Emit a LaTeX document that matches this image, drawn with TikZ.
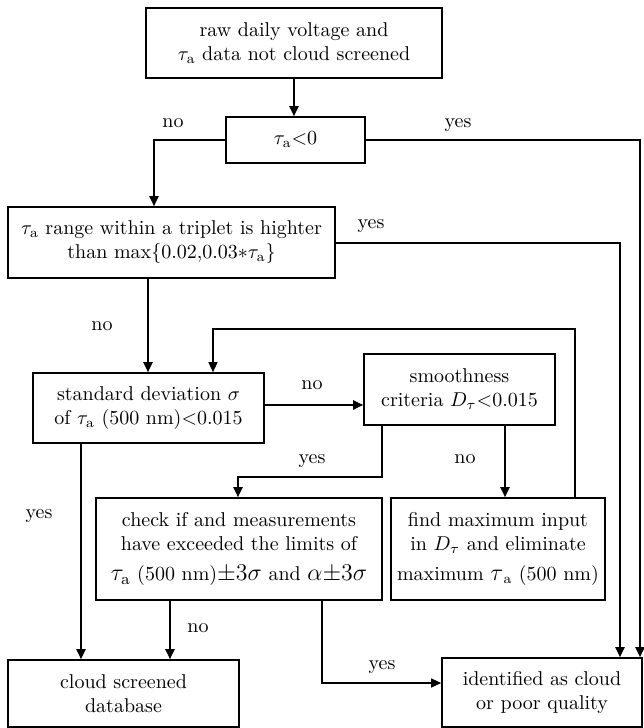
\documentclass[tikz,border=0pt]{standalone}
\usepackage{amsmath, amssymb}
\usepackage{tikz}
\usetikzlibrary{positioning, calc, arrows.meta}
\newcommand{\taua}{\tau_{\mathrm{a}}}

\begin{document}
\begin{tikzpicture}[x=0.5pt, y=-0.5pt,
    stepbox/.style={draw, line width=0.8pt, align=center, inner sep=1pt},
    flow/.style={-{Triangle[length=5pt, width=4.5pt]}, line width=1pt},
    thinflow/.style={-{Triangle[length=5pt, width=4.5pt]}, line width=0.6pt},
    answer/.style={inner sep=0pt, anchor=base},
]
\useasboundingbox (0,0) rectangle (643,728);

% --- Process boxes (positions in pixels of the 643 x 728 layout) ---
\node[stepbox, minimum width=148pt, minimum height=35pt] (raw) at (294,43)
    {raw daily voltage and\\ $\taua$ data not cloud screened};
\node[stepbox, minimum width=69.5pt, minimum height=23pt] (neg) at (295.5,140)
    {$\taua{<}0$};
\node[stepbox, minimum width=163.5pt, minimum height=35.5pt] (range) at (171.5,242.5)
    {$\taua$ range within a triplet is highter\\ than max$\{0.02{,}0.03{*}\taua\}$};
\node[stepbox, minimum width=115.5pt, minimum height=35pt] (stddev) at (148.5,408)
    {standard deviation $\sigma$\\ of $\taua$ (500 nm)${<}$0.015};
\node[stepbox, minimum width=95.5pt, minimum height=35.5pt] (smooth) at (459.5,389.5)
    {smoothness\\ criteria $D_\tau{<}0.015$};
\node[stepbox, minimum width=143pt, minimum height=51pt] (check) at (239,549)
    {check if and measurements\\ have exceeded the limits of\\[3pt]
     {\large$\taua$} (500 nm){\large$\pm3\sigma$} and {\large$\alpha{\pm}3\sigma$}};
\node[stepbox, minimum width=107pt, minimum height=51pt] (findmax) at (498,549)
    {find maximum input\\ in $D_\tau$ and eliminate\\[3pt] maximum {\large$\tau$}$_{\mathrm{a}}$ (500 nm)};
\node[stepbox, minimum width=115.5pt, minimum height=33.5pt] (database) at (123.5,693.5)
    {cloud screened\\ database};
\node[stepbox, minimum width=100pt, minimum height=34.5pt] (cloud) at (542,692.5)
    {identified as cloud\\ or poor quality};

% --- Bend points of the connectors ---
\coordinate (negno)    at (154,0);
\coordinate (yesfar)   at (640,0);
\coordinate (yesnear)  at (620,0);
\coordinate (rangeno)  at (148,0);
\coordinate (smoothy)  at (382,477);
\coordinate (checkin)  at (238,477);
\coordinate (smoothn)  at (505,0);
\coordinate (looptop)  at (575,329);
\coordinate (loopleft) at (213,329);
\coordinate (stdyes)   at (81,0);
\coordinate (checkno)  at (170,0);
\coordinate (checkyes) at (322,683);

% --- Connectors ---
\draw[flow] (raw.south) -- (raw.south |- neg.north);
\draw[flow] (neg.west) -| (negno |- range.north);
\draw[flow] (neg.east) -| (yesfar |- cloud.north);
\draw[flow] (range.east) -| (yesnear |- cloud.north);
\draw[flow] (rangeno |- range.south) -- (rangeno |- stddev.north);
\draw[flow] (stddev.east |- 0,405) -- (smooth.west |- 0,405);
\draw[flow] (smooth.south -| smoothy) -- (smoothy) -- (checkin) -- (checkin |- check.north);
\draw[flow] (smoothn |- smooth.south) -- (smoothn |- findmax.north);
\draw[thinflow] (looptop |- findmax.north) -- (looptop) -- (loopleft) -- (loopleft |- stddev.north);
\draw[flow] (stdyes |- stddev.south) -- (stdyes |- database.north);
\draw[flow] (checkno |- check.south) -- (checkno |- database.north);
\draw[thinflow] (checkyes |- check.south) -- (checkyes) -- (cloud.west |- checkyes);

% --- Branch labels ---
\node[answer] (l1)  at (173,127) {no};
\node[answer] (l2)  at (458,127) {yes};
\node[answer] (l3)  at (371,228) {yes};
\node[answer] (l4)  at (102,330) {no};
\node[answer] (l5)  at (312,389) {no};
\node[answer] (l6)  at (312,463) {yes};
\node[answer] (l7)  at (465,463) {no};
\node[answer] (l8)  at (39,518)  {yes};
\node[answer] (l9)  at (198,632) {no};
\node[answer] (l10) at (382,669) {yes};

\end{tikzpicture}
\end{document}
